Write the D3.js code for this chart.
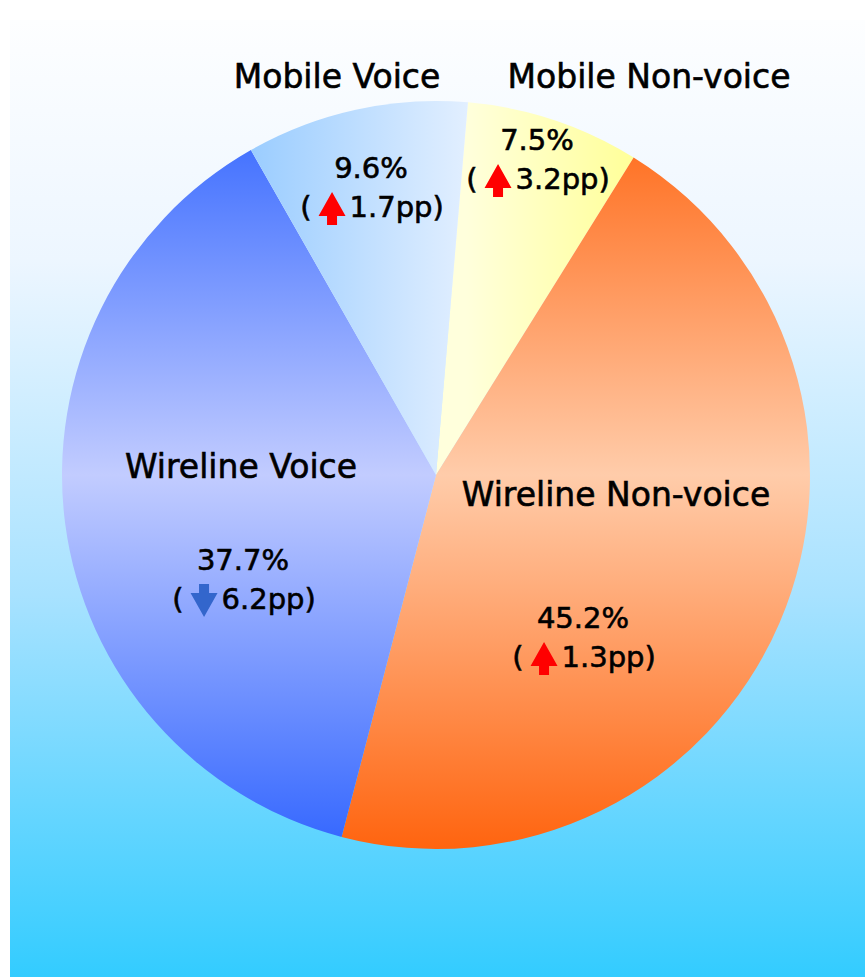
<!DOCTYPE html>
<html>
<head>
<meta charset="utf-8">
<script src="https://cdnjs.cloudflare.com/ajax/libs/d3/7.8.5/d3.min.js"></script>
<style>
  body { margin: 0; background: #ffffff; }
  svg { display: block; }
  text { font-family: "DejaVu Sans", Verdana, sans-serif; fill: #000; stroke: #000; stroke-width: 0.6px; }
</style>
</head>
<body>
<svg id="vis1" width="865" height="977"></svg>
<script>
// data, in drawing order (clockwise from the top)
var categories = ["Mobile Non-voice", "Wireline Non-voice", "Wireline Voice", "Mobile Voice"];
var shares = [7.5, 45.2, 37.7, 9.6];          // percent of total
var changes = [3.2, 1.3, -6.2, 1.7];          // percentage points vs previous year

// where the texts sit (centre x, baseline y)
var namePos = {
    "Mobile Non-voice":   [649, 88],
    "Wireline Non-voice": [616, 506],
    "Wireline Voice":     [241, 478],
    "Mobile Voice":       [337, 88]
};
var valuePos = {
    "Mobile Non-voice":   [537, 150],
    "Wireline Non-voice": [583, 628],
    "Wireline Voice":     [243, 570],
    "Mobile Voice":       [371, 178]
};

var svg = d3.select("svg#vis1");
var width = 865, height = 977;
var cx = 436, cy = 475, radius = 374;
var startAngle = 0.0855; // first slice starts a little right of 12 o'clock

var defs = svg.append("defs");

// background panel
var bg = defs.append("linearGradient").attr("id", "bg")
    .attr("x1", 0).attr("y1", 0).attr("x2", 0).attr("y2", 1);
bg.append("stop").attr("offset", "0").attr("stop-color", "#fdfeff");
bg.append("stop").attr("offset", "0.25").attr("stop-color", "#edf6ff");
bg.append("stop").attr("offset", "0.6").attr("stop-color", "#a8e2ff");
bg.append("stop").attr("offset", "1").attr("stop-color", "#33ccff");

svg.append("rect")
    .attr("x", 10).attr("y", 20)
    .attr("width", width - 10).attr("height", height - 20)
    .style("fill", "url(#bg)");

// slice gradients, in pie coordinates (centre = 0,0)
function addGrad(id, x1, y1, x2, y2, stops) {
    var g = defs.append("linearGradient").attr("id", id)
        .attr("gradientUnits", "userSpaceOnUse")
        .attr("x1", x1).attr("y1", y1).attr("x2", x2).attr("y2", y2);
    stops.forEach(function (s) {
        g.append("stop").attr("offset", s[0]).attr("stop-color", s[1]);
    });
}
addGrad("g0", 30, 0, 200, 0, [[0, "#ffffdc"], [1, "#ffff98"]]);
addGrad("g1", 0, -radius, 0, radius, [[0, "#ff6410"], [0.5, "#ffccaa"], [1, "#ff640f"]]);
addGrad("g2", 0, -radius, 0, radius, [[0, "#3366ff"], [0.5, "#c2ccff"], [1, "#3366ff"]]);
addGrad("g3", -190, 0, 32, 0, [[0, "#99ccff"], [1, "#e2efff"]]);

var pie = d3.pie()
    .sort(null)
    .value(function (d) { return d.share; })
    .startAngle(startAngle)
    .endAngle(startAngle + 2 * Math.PI);

var arc = d3.arc().innerRadius(0).outerRadius(radius);

var rows = categories.map(function (c, i) {
    return { name: c, share: shares[i], change: changes[i], idx: i };
});

var plot = svg.append("g").attr("id", "plot")
    .attr("transform", "translate(" + cx + "," + cy + ")");

plot.selectAll("path.slice")
    .data(pie(rows))
    .enter().append("path")
    .attr("class", "slice")
    .attr("d", arc)
    .style("fill", function (d) { return "url(#g" + d.data.idx + ")"; });

// labels
var labels = svg.append("g").attr("id", "labels");

rows.forEach(function (d) {
    var np = namePos[d.name];
    labels.append("text")
        .attr("x", np[0]).attr("y", np[1])
        .style("font-size", "33px")
        .style("text-anchor", "middle")
        .text(d.name);

    var vp = valuePos[d.name];
    labels.append("text")
        .attr("x", vp[0]).attr("y", vp[1])
        .style("font-size", "29px")
        .style("text-anchor", "middle")
        .text(d.share.toFixed(1) + "%");

    // second line: ( arrow x.xpp)
    var y2 = vp[1] + 39;
    var line = labels.append("g");
    var open = line.append("text")
        .attr("y", y2)
        .style("font-size", "29px")
        .text("(");
    var rest = line.append("text")
        .attr("y", y2)
        .style("font-size", "29px")
        .text(Math.abs(d.change).toFixed(1) + "pp)");

    var wOpen = open.node().getComputedTextLength();
    var wRest = rest.node().getComputedTextLength();
    var aw = 27, gap1 = 7, gap2 = 4;
    var total = wOpen + gap1 + aw + gap2 + wRest;
    var x0 = vp[0] - total / 2 + 1;

    open.attr("x", x0);
    var ax = x0 + wOpen + gap1;
    rest.attr("x", ax + aw + gap2);

    var up = d.change >= 0;
    var sw = 10, headH = 24, stemH = 9;
    var top = y2 - 25, bot = top + headH + stemH;
    var pts;
    if (up) {
        pts = [[ax + aw / 2, top], [ax + aw, top + headH], [ax + aw / 2 + sw / 2, top + headH],
               [ax + aw / 2 + sw / 2, bot], [ax + aw / 2 - sw / 2, bot],
               [ax + aw / 2 - sw / 2, top + headH], [ax, top + headH]];
    } else {
        pts = [[ax + aw / 2 - sw / 2, top], [ax + aw / 2 + sw / 2, top],
               [ax + aw / 2 + sw / 2, top + stemH], [ax + aw, top + stemH],
               [ax + aw / 2, bot], [ax, top + stemH], [ax + aw / 2 - sw / 2, top + stemH]];
    }
    line.append("path")
        .attr("d", d3.line()(pts) + "Z")
        .style("fill", up ? "#ff0000" : "#3366cc");
});
</script>
</body>
</html>
